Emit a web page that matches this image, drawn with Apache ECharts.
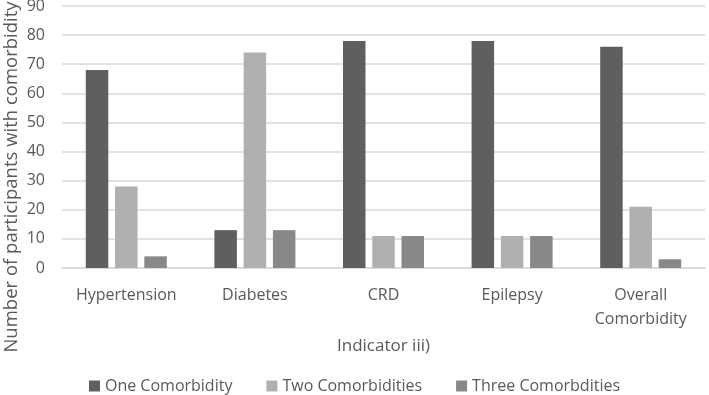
<!DOCTYPE html>
<html>
<head>
<meta charset="utf-8">
<script src="https://cdn.jsdelivr.net/npm/echarts@6/dist/echarts.min.js"></script>
<style>
  html, body { margin: 0; padding: 0; background: #fff; }
  #chart { width: 709px; height: 395px; }
</style>
</head>
<body>
<div id="chart"></div>
<script>
// chart data
var categories = ['Hypertension', 'Diabetes', 'CRD', 'Epilepsy', 'Overall\nComorbidity'];
var seriesNames = ['One Comorbidity', 'Two Comorbidities', 'Three Comorbdities'];
var oneComorbidity = [68, 13, 78, 78, 76];
var twoComorbidities = [28, 74, 11, 11, 21];
var threeComorbidities = [4, 13, 11, 11, 3];
var yTicks = [0, 10, 20, 30, 40, 50, 60, 70, 80, 90];

var colors = ['#5f5f5f', '#b0b0b0', '#888888'];
var txt = '#595959';
var font = 'Open Sans';

var chart = echarts.init(document.getElementById('chart'));

var makeBar = function (name, data, color) {
  return {
    name: name,
    type: 'bar',
    data: data,
    barGap: '30%',
    barCategoryGap: '37%',
    itemStyle: { color: color },
    emphasis: { disabled: true }
  };
};

chart.setOption({
  animation: false,
  textStyle: { fontFamily: font },
  grid: { left: 62, right: 4, top: 6, bottom: 127, containLabel: false, outerBoundsMode: 'none' },
  // y axis title is placed by hand, Excel centres it lower than the plot
  graphic: [{
    type: 'text',
    x: 12,
    y: 177,
    rotation: Math.PI / 2,
    style: {
      text: 'Number of participants with comorbidity',
      fill: txt,
      font: '18.5px "' + font + '"',
      textAlign: 'center',
      textVerticalAlign: 'middle'
    }
  }],
  legend: {
    top: 373,
    left: 'center',
    itemWidth: 11,
    itemHeight: 11,
    itemGap: 34,
    icon: 'rect',
    textStyle: { color: txt, fontSize: 16, fontFamily: font },
    data: seriesNames
  },
  xAxis: {
    type: 'category',
    data: categories,
    name: 'Indicator iii)',
    nameLocation: 'middle',
    nameGap: 70,
    nameTextStyle: { color: txt, fontSize: 17, fontFamily: font },
    axisTick: { show: false },
    axisLine: { lineStyle: { color: '#d9d9d9', width: 1.5 } },
    axisLabel: { color: txt, fontSize: 16, margin: 15, lineHeight: 24, interval: 0 }
  },
  yAxis: {
    type: 'value',
    min: yTicks[0],
    max: yTicks[yTicks.length - 1],
    interval: 10,
    axisLine: { show: false },
    axisTick: { show: false },
    splitLine: { lineStyle: { color: '#d9d9d9', width: 1.5 } },
    axisLabel: { color: txt, fontSize: 16, margin: 17 }
  },
  series: [
    makeBar(seriesNames[0], oneComorbidity, colors[0]),
    makeBar(seriesNames[1], twoComorbidities, colors[1]),
    makeBar(seriesNames[2], threeComorbidities, colors[2])
  ]
});
</script>
</body>
</html>
